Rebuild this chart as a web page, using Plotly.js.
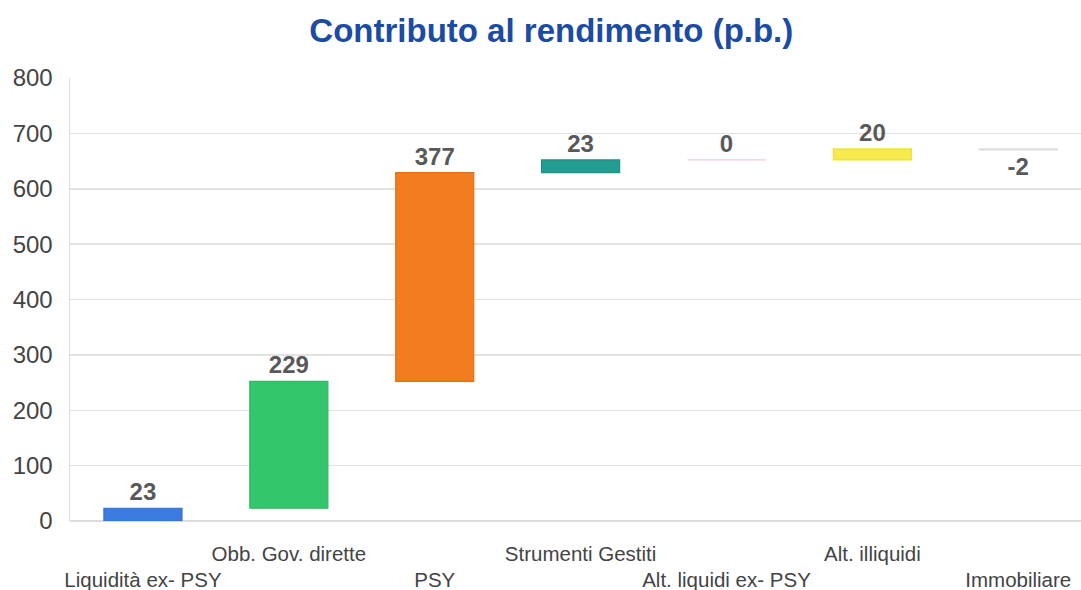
<!DOCTYPE html>
<html>
<head>
<meta charset="utf-8">
<script src="https://cdn.plot.ly/plotly-3.0.1.min.js"></script>
<style>html,body{margin:0;padding:0;background:#fff;}#chart{width:1081px;height:590px;}</style>
</head>
<body>
<div id="chart"></div>
<script>
const categories = ["Liquidità ex- PSY", "Obb. Gov. dirette", "PSY", "Strumenti Gestiti", "Alt. liquidi ex- PSY", "Alt. illiquidi", "Immobiliare"];
const contributions = [23, 229, 377, 23, 0, 20, -2];
const barColors = ["#3b7be0", "#34c66c", "#f47c20", "#239d8f", "#f9c8d0", "#f6ea4c", "#dcdce0"];
const borderColors = ["#3070d0", "#2fb863", "#e0701a", "#1f9083", "#f9c8d0", "#ece040", "#dcdce0"];
const yTicks = [0, 100, 200, 300, 400, 500, 600, 700, 800];

// waterfall bases: running total of previous contributions
const bases = [];
let running = 0;
contributions.forEach(v => { bases.push(running); running += v; });

const xIdx = categories.map((c, i) => i);
const tickText = categories.map((c, i) => i % 2 === 0 ? '&nbsp;<br>' + c : c + '<br>&nbsp;');

const trace = {
  type: 'bar',
  x: xIdx,
  y: contributions,
  base: bases,
  width: 0.535,
  marker: {
    color: barColors,
    line: { color: borderColors, width: 1.2 }
  },
  text: contributions.map(v => String(v)),
  textposition: 'outside',
  constraintext: 'none',
  cliponaxis: false,
  textfont: { family: 'Liberation Sans, Arial, sans-serif', size: 24, color: '#595959', weight: 'bold' },
  hoverinfo: 'skip'
};

const layout = {
  width: 1081,
  height: 590,
  margin: { l: 70, r: 0, t: 78, b: 69 },
  paper_bgcolor: '#ffffff',
  plot_bgcolor: '#ffffff',
  showlegend: false,
  font: { family: 'Liberation Sans, Arial, sans-serif', color: '#444444' },
  title: {
    text: '<b>Contributo al rendimento (p.b.)</b>',
    font: { family: 'Liberation Sans, Arial, sans-serif', size: 33, color: '#1c4ba3' },
    x: 0.51, xanchor: 'center', xref: 'container',
    y: 1 - 30 / 590, yanchor: 'middle', yref: 'container'
  },
  xaxis: {
    range: [-0.5, 6.43],
    tickmode: 'array',
    tickvals: xIdx,
    ticktext: tickText,
    tickangle: 0,
    showgrid: false,
    zeroline: false,
    showline: false,
    ticks: '',
    ticklabelstandoff: 18,
    tickfont: { size: 20.5, color: '#444444' }
  },
  yaxis: {
    range: [0, 800],
    tickmode: 'array',
    tickvals: yTicks,
    ticktext: yTicks.map(String),
    showgrid: true,
    gridcolor: '#e2e2e2',
    gridwidth: 1.5,
    zeroline: true,
    zerolinecolor: '#dcdcdc',
    zerolinewidth: 1.5,
    showline: true,
    linecolor: '#dcdcdc',
    linewidth: 1.5,
    ticks: '',
    ticklabelstandoff: 11,
    tickfont: { size: 24, color: '#444444' }
  }
};

Plotly.newPlot('chart', [trace], layout, { displayModeBar: false, staticPlot: true });
</script>
</body>
</html>
